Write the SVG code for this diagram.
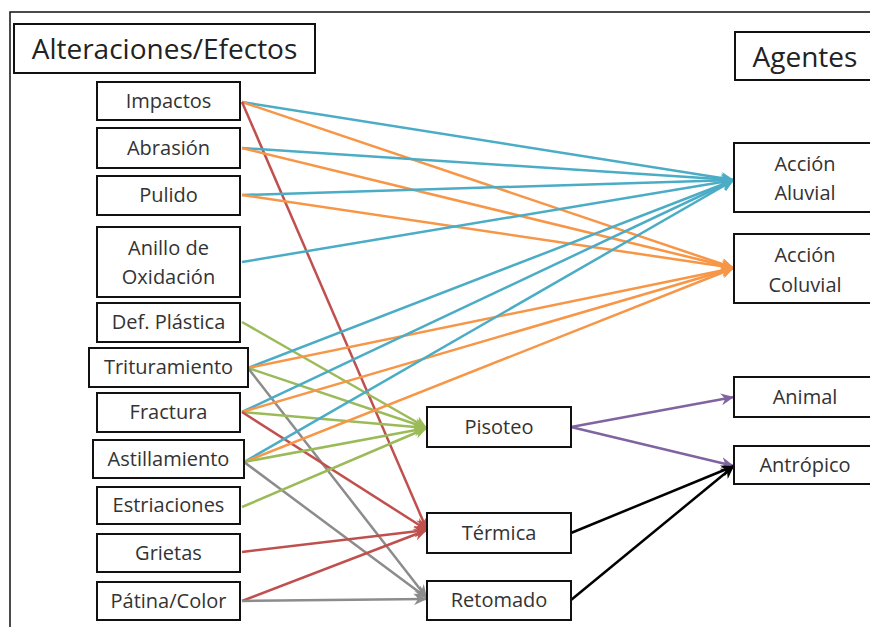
<svg xmlns="http://www.w3.org/2000/svg" width="870" height="627" viewBox="0 0 870 627">
<defs>
<style>
.box{fill:#fff;stroke:#111;stroke-width:2}
.t{font-family:"Open Sans","Noto Sans",sans-serif;font-size:20px;fill:#333;text-anchor:middle}
.h{font-family:"Open Sans","Noto Sans",sans-serif;font-size:28px;fill:#222;text-anchor:middle}
.c{fill:none;stroke-width:2.5}
.cy{stroke:#4bacc6}.or{stroke:#f79646}.gr{stroke:#9bbb59}.rd{stroke:#c0504d}.pu{stroke:#8064a2}.gy{stroke:#8c8c8c}.bk{stroke:#000}
</style>
<marker id="mcy" markerUnits="userSpaceOnUse" markerWidth="14" markerHeight="12" refX="13" refY="6" orient="auto"><path d="M0,0 L13,6 L0,12 L4,6 z" fill="#4bacc6"/></marker>
<marker id="mor" markerUnits="userSpaceOnUse" markerWidth="14" markerHeight="12" refX="13" refY="6" orient="auto"><path d="M0,0 L13,6 L0,12 L4,6 z" fill="#f79646"/></marker>
<marker id="mgr" markerUnits="userSpaceOnUse" markerWidth="14" markerHeight="12" refX="13" refY="6" orient="auto"><path d="M0,0 L13,6 L0,12 L4,6 z" fill="#9bbb59"/></marker>
<marker id="mrd" markerUnits="userSpaceOnUse" markerWidth="14" markerHeight="12" refX="13" refY="6" orient="auto"><path d="M0,0 L13,6 L0,12 L4,6 z" fill="#c0504d"/></marker>
<marker id="mpu" markerUnits="userSpaceOnUse" markerWidth="14" markerHeight="12" refX="13" refY="6" orient="auto"><path d="M0,0 L13,6 L0,12 L4,6 z" fill="#8064a2"/></marker>
<marker id="mgy" markerUnits="userSpaceOnUse" markerWidth="14" markerHeight="12" refX="13" refY="6" orient="auto"><path d="M0,0 L13,6 L0,12 L4,6 z" fill="#8c8c8c"/></marker>
<marker id="mbk" markerUnits="userSpaceOnUse" markerWidth="14" markerHeight="12" refX="13" refY="6" orient="auto"><path d="M0,0 L13,6 L0,12 L4,6 z" fill="#000"/></marker>
</defs>
<rect width="870" height="627" fill="#fff"/>
<path d="M10,627 V12 H870" fill="none" stroke="#111" stroke-width="1.5"/>

<g id="connectors">
<line class="c cy" x1="242" y1="102" x2="734" y2="180" marker-end="url(#mcy)"/>
<line class="c or" x1="242" y1="102" x2="734" y2="268" marker-end="url(#mor)"/>
<line class="c rd" x1="242" y1="102" x2="427" y2="530" marker-end="url(#mrd)"/>
<line class="c cy" x1="242" y1="148" x2="734" y2="180" marker-end="url(#mcy)"/>
<line class="c or" x1="242" y1="148" x2="734" y2="268" marker-end="url(#mor)"/>
<line class="c cy" x1="242" y1="195" x2="734" y2="180" marker-end="url(#mcy)"/>
<line class="c or" x1="242" y1="195" x2="734" y2="268" marker-end="url(#mor)"/>
<line class="c cy" x1="242" y1="262" x2="734" y2="180" marker-end="url(#mcy)"/>
<line class="c gr" x1="242" y1="322" x2="427" y2="428" marker-end="url(#mgr)"/>
<line class="c cy" x1="248" y1="368" x2="734" y2="180" marker-end="url(#mcy)"/>
<line class="c or" x1="248" y1="368" x2="734" y2="268" marker-end="url(#mor)"/>
<line class="c gr" x1="248" y1="368" x2="427" y2="428" marker-end="url(#mgr)"/>
<line class="c gy" x1="248" y1="368" x2="427" y2="598" marker-end="url(#mgy)"/>
<line class="c cy" x1="242" y1="412" x2="734" y2="180" marker-end="url(#mcy)"/>
<line class="c or" x1="242" y1="412" x2="734" y2="268" marker-end="url(#mor)"/>
<line class="c gr" x1="242" y1="412" x2="427" y2="428" marker-end="url(#mgr)"/>
<line class="c rd" x1="242" y1="412" x2="427" y2="530" marker-end="url(#mrd)"/>
<line class="c cy" x1="244" y1="462" x2="734" y2="180" marker-end="url(#mcy)"/>
<line class="c or" x1="244" y1="462" x2="734" y2="268" marker-end="url(#mor)"/>
<line class="c gr" x1="244" y1="462" x2="427" y2="428" marker-end="url(#mgr)"/>
<line class="c gy" x1="244" y1="462" x2="427" y2="598" marker-end="url(#mgy)"/>
<line class="c gr" x1="242" y1="507" x2="427" y2="428" marker-end="url(#mgr)"/>
<line class="c rd" x1="242" y1="552" x2="427" y2="530" marker-end="url(#mrd)"/>
<line class="c rd" x1="242" y1="601" x2="427" y2="530" marker-end="url(#mrd)"/>
<line class="c gy" x1="242" y1="601" x2="427" y2="599" marker-end="url(#mgy)"/>
<line class="c pu" x1="571" y1="427" x2="734" y2="397" marker-end="url(#mpu)"/>
<line class="c pu" x1="571" y1="427" x2="734" y2="466" marker-end="url(#mpu)"/>
<line class="c bk" x1="571" y1="533" x2="734" y2="466" marker-end="url(#mbk)"/>
<line class="c bk" x1="571" y1="600" x2="734" y2="466" marker-end="url(#mbk)"/>
</g>

<g id="hdr-alteraciones"><rect class="box" x="14" y="24" width="301" height="49"/><text class="h" x="164.5" y="59">Alteraciones/Efectos</text></g>
<g id="hdr-agentes"><rect class="box" x="735" y="32" width="145" height="48"/><text class="h" x="805" y="67">Agentes</text></g>

<g id="n-impactos"><rect class="box" x="97" y="82" width="143" height="38"/><text class="t" x="168.5" y="108">Impactos</text></g>
<g id="n-abrasion"><rect class="box" x="97" y="128" width="143" height="40"/><text class="t" x="168.5" y="155">Abrasión</text></g>
<g id="n-pulido"><rect class="box" x="97" y="176" width="143" height="39"/><text class="t" x="168.5" y="202">Pulido</text></g>
<g id="n-anillo"><rect class="box" x="97" y="227" width="143" height="70"/><text class="t" x="168.5" y="255">Anillo de</text><text class="t" x="168.5" y="284">Oxidación</text></g>
<g id="n-defplastica"><rect class="box" x="97" y="303" width="143" height="39"/><text class="t" x="168.5" y="329">Def. Plástica</text></g>
<g id="n-trituramiento"><rect class="box" x="89" y="348" width="159" height="39"/><text class="t" x="168.5" y="374">Trituramiento</text></g>
<g id="n-fractura"><rect class="box" x="97" y="393" width="143" height="39"/><text class="t" x="168.5" y="419">Fractura</text></g>
<g id="n-astillamiento"><rect class="box" x="93" y="440" width="151" height="38"/><text class="t" x="168.5" y="466">Astillamiento</text></g>
<g id="n-estriaciones"><rect class="box" x="97" y="487" width="143" height="37"/><text class="t" x="168.5" y="512">Estriaciones</text></g>
<g id="n-grietas"><rect class="box" x="97" y="534" width="143" height="38"/><text class="t" x="168.5" y="560">Grietas</text></g>
<g id="n-patina"><rect class="box" x="97" y="582" width="143" height="38"/><text class="t" x="168.5" y="608">Pátina/Color</text></g>

<g id="n-pisoteo"><rect class="box" x="427" y="407" width="144" height="40"/><text class="t" x="499" y="434">Pisoteo</text></g>
<g id="n-termica"><rect class="box" x="427" y="513" width="144" height="40"/><text class="t" x="499" y="540">Térmica</text></g>
<g id="n-retomado"><rect class="box" x="427" y="581" width="144" height="39"/><text class="t" x="499" y="607">Retomado</text></g>

<g id="n-aluvial"><rect class="box" x="734" y="143" width="146" height="69"/><text class="t" x="805" y="171">Acción</text><text class="t" x="805" y="200">Aluvial</text></g>
<g id="n-coluvial"><rect class="box" x="734" y="234" width="146" height="69"/><text class="t" x="805" y="262">Acción</text><text class="t" x="805" y="292">Coluvial</text></g>
<g id="n-animal"><rect class="box" x="734" y="377" width="146" height="40"/><text class="t" x="805" y="404">Animal</text></g>
<g id="n-antropico"><rect class="box" x="734" y="446" width="146" height="38"/><text class="t" x="805" y="472">Antrópico</text></g>
</svg>
